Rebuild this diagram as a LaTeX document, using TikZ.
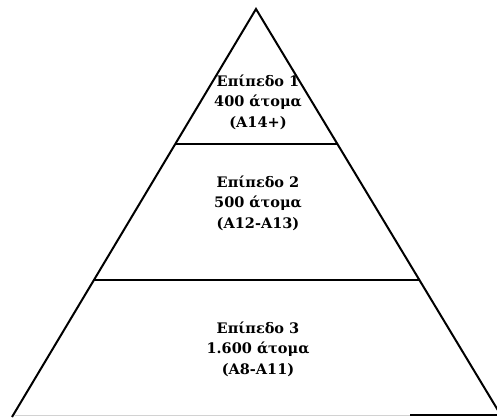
\documentclass[tikz,border=0pt]{standalone}
\usepackage{fontspec}
\setmainfont{DejaVu Serif}
\usetikzlibrary{calc}

\tikzset{
  side/.style={line width=2pt, black},
  level/.style={align=center, font=\bfseries\fontsize{14.5}{20.5}\selectfont, inner sep=0pt}
}

\begin{document}
\begin{tikzpicture}[x=1pt, y=-1pt]
  \useasboundingbox (0,0) rectangle (497,417);
  % Κορυφές
  \coordinate (apex) at (256,9);
  \coordinate (bl) at (12,417);
  \coordinate (br) at (502,417);
  \coordinate (l1) at ($(apex)!0.331!(bl)$);
  \coordinate (r1) at ($(apex)!0.331!(br)$);
  \coordinate (l2) at ($(apex)!0.664!(bl)$);
  \coordinate (r2) at ($(apex)!0.664!(br)$);
  \coordinate (b0) at (14,415);
  \coordinate (b1) at (410,415);
  \coordinate (b2) at (497,415);

  \draw[side] (bl) -- (apex) -- (br);
  \draw[side] (l1) -- (r1);
  \draw[side] (l2) -- (r2);
  \draw[gray!35, line width=0.8pt] (b0) -- (b1);
  \draw[side] (b1) -- (b2);

  \node[level] (lev1) at (258,102) {Επίπεδο 1\\400 άτομα\\(A14+)};
  \node[level] (lev2) at (258,203) {Επίπεδο 2\\500 άτομα\\(A12-A13)};
  \node[level] (lev3) at (258,349) {Επίπεδο 3\\1.600 άτομα\\(A8-A11)};
\end{tikzpicture}
\end{document}
